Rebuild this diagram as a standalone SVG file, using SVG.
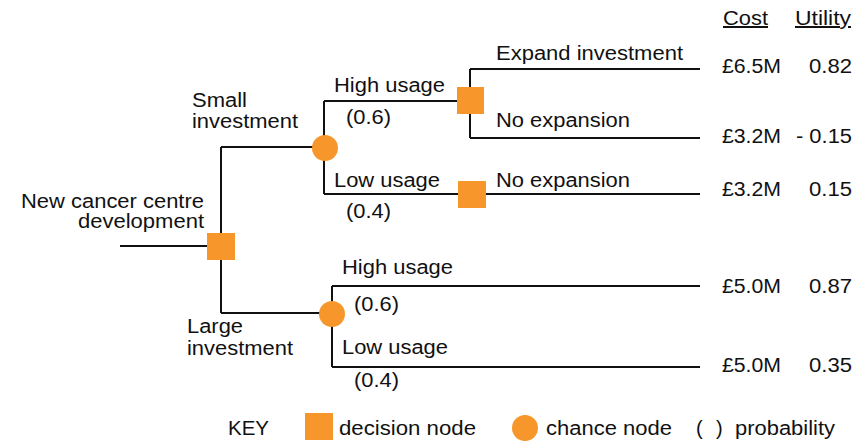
<svg xmlns="http://www.w3.org/2000/svg" width="864" height="441" viewBox="0 0 864 441">
<style>
.t{font-family:"Liberation Sans",Arial,sans-serif;font-size:20px;fill:#111}
.ln{fill:none;stroke:#111;stroke-width:2}
.dec{fill:#F7962B}
.chn{fill:#F7962B}
.u{text-decoration:underline}
</style>
<rect width="864" height="441" fill="#fff"/>
<g id="connectors" class="ln">
<path d="M120 246H221"/>
<path d="M221 147V313"/>
<path d="M221 147H325"/>
<path d="M221 313H332"/>
<path d="M324 101V194"/>
<path d="M324 101H470"/>
<path d="M324 194H700"/>
<path d="M470 69V138"/>
<path d="M470 69H700"/>
<path d="M470 138H700"/>
<path d="M332 286V367"/>
<path d="M332 286H700"/>
<path d="M332 367H700"/>
</g>
<g id="header">
<text class="t u" x="723" y="25" textLength="45" lengthAdjust="spacingAndGlyphs">Cost</text>
<text class="t u" x="795" y="25" textLength="56" lengthAdjust="spacingAndGlyphs">Utility</text>
</g>
<g id="root">
<rect class="dec" x="207" y="233" width="28" height="27"/>
<text class="t" x="21" y="208" textLength="183" lengthAdjust="spacingAndGlyphs">New cancer centre</text>
<text class="t" x="78" y="228" textLength="126" lengthAdjust="spacingAndGlyphs">development</text>
<text class="t" x="192" y="107" textLength="55" lengthAdjust="spacingAndGlyphs">Small</text>
<text class="t" x="192" y="128" textLength="106" lengthAdjust="spacingAndGlyphs">investment</text>
<text class="t" x="187" y="333" textLength="56" lengthAdjust="spacingAndGlyphs">Large</text>
<text class="t" x="187" y="355" textLength="106" lengthAdjust="spacingAndGlyphs">investment</text>
</g>
<g id="chance-small">
<circle class="chn" cx="325" cy="148" r="13"/>
<text class="t" x="334" y="92" textLength="111" lengthAdjust="spacingAndGlyphs">High usage</text>
<text class="t" x="346" y="124" textLength="45" lengthAdjust="spacingAndGlyphs">(0.6)</text>
<text class="t" x="334" y="187" textLength="106" lengthAdjust="spacingAndGlyphs">Low usage</text>
<text class="t" x="346" y="218" textLength="45" lengthAdjust="spacingAndGlyphs">(0.4)</text>
</g>
<g id="decision-high">
<rect class="dec" x="457" y="87" width="27" height="27"/>
<text class="t" x="496" y="60" textLength="187" lengthAdjust="spacingAndGlyphs">Expand investment</text>
<text class="t" x="496" y="127" textLength="134" lengthAdjust="spacingAndGlyphs">No expansion</text>
</g>
<g id="decision-low">
<rect class="dec" x="458" y="181" width="28" height="27"/>
<text class="t" x="496" y="187" textLength="134" lengthAdjust="spacingAndGlyphs">No expansion</text>
</g>
<g id="chance-large">
<circle class="chn" cx="332" cy="314" r="13"/>
<text class="t" x="342" y="274" textLength="111" lengthAdjust="spacingAndGlyphs">High usage</text>
<text class="t" x="354" y="311" textLength="45" lengthAdjust="spacingAndGlyphs">(0.6)</text>
<text class="t" x="342" y="354" textLength="106" lengthAdjust="spacingAndGlyphs">Low usage</text>
<text class="t" x="354" y="387" textLength="45" lengthAdjust="spacingAndGlyphs">(0.4)</text>
</g>
<g id="outcomes">
<text class="t" x="722" y="73" textLength="59" lengthAdjust="spacingAndGlyphs">£6.5M</text>
<text class="t" x="809" y="73" textLength="43" lengthAdjust="spacingAndGlyphs">0.82</text>
<text class="t" x="722" y="143" textLength="59" lengthAdjust="spacingAndGlyphs">£3.2M</text>
<text class="t" x="796" y="143" textLength="56" lengthAdjust="spacingAndGlyphs">- 0.15</text>
<text class="t" x="722" y="196" textLength="59" lengthAdjust="spacingAndGlyphs">£3.2M</text>
<text class="t" x="809" y="196" textLength="43" lengthAdjust="spacingAndGlyphs">0.15</text>
<text class="t" x="722" y="293" textLength="59" lengthAdjust="spacingAndGlyphs">£5.0M</text>
<text class="t" x="809" y="293" textLength="43" lengthAdjust="spacingAndGlyphs">0.87</text>
<text class="t" x="722" y="372" textLength="59" lengthAdjust="spacingAndGlyphs">£5.0M</text>
<text class="t" x="809" y="372" textLength="43" lengthAdjust="spacingAndGlyphs">0.35</text>
</g>
<g id="key">
<text class="t" x="228" y="435" textLength="41" lengthAdjust="spacingAndGlyphs">KEY</text>
<rect class="dec" x="305" y="413" width="28" height="27"/>
<text class="t" x="339" y="435" textLength="137" lengthAdjust="spacingAndGlyphs">decision node</text>
<circle class="chn" cx="525" cy="428" r="13"/>
<text class="t" x="546" y="435" textLength="126" lengthAdjust="spacingAndGlyphs">chance node</text>
<text class="t" x="696" y="435">(</text>
<text class="t" x="716" y="435">)</text>
<text class="t" x="735" y="435" textLength="100" lengthAdjust="spacingAndGlyphs">probability</text>
</g>
</svg>
